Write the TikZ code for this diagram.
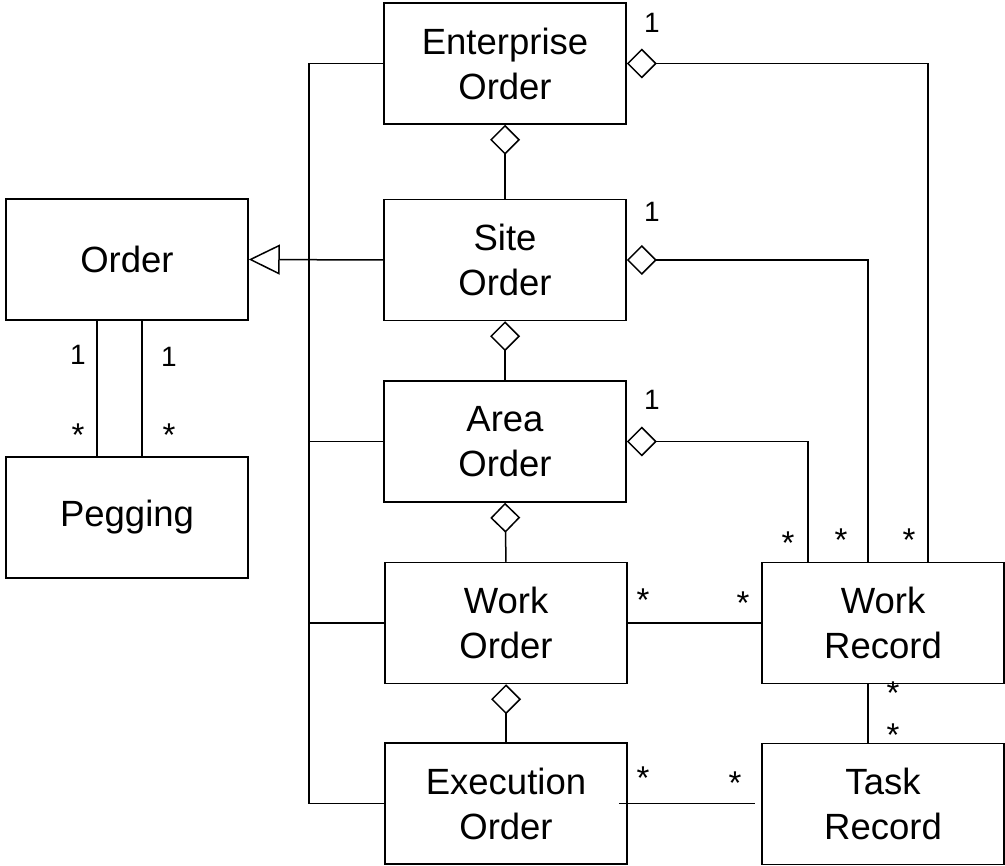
\documentclass[tikz,border=0pt]{standalone}
\usepackage{fontspec}
\setmainfont{Liberation Sans}
\usetikzlibrary{arrows.meta}

\begin{document}
\begin{tikzpicture}[x=1pt,y=-1pt,line width=1.5pt]
		\tikzstyle{cls}=[draw,shape=rectangle,minimum width=242pt,minimum height=121pt,align=center,font=\fontsize{36.5}{45}\selectfont]
		\tikzstyle{mult}=[inner sep=0pt,font=\fontsize{28}{32}\selectfont]
		\tikzstyle{many}=[mult,font=\fontsize{33}{36}\selectfont]
		\tikzstyle{aggr}=[-{Diamond[open,length=30pt,width=30pt]}]
		\tikzstyle{gen}=[-{Triangle[open,length=31pt,width=30pt]}]

		\useasboundingbox (0,0) rectangle (1005,866);

		\node[cls](ent) at (505,63.5){Enterprise\\Order};
		\node[cls](site) at (505,260){Site\\Order};
		\node[cls](area) at (505,441.5){Area\\Order};
		\node[cls](work) at (506,623){Work\\Order};
		\node[cls](exec) at (506,803.5){Execution\\Order};
		\node[cls](order) at (127,259.5){Order};
		\node[cls](peg) at (127,517.5){Pegging};
		\node[cls](wrec) at (883,623){Work\\Record};
		\node[cls](task) at (883,804){Task\\Record};
		\coordinate (trunk) at (309,0);

		\draw[aggr] (site.north) -- (ent.south);
		\draw[aggr] (area.north) -- (site.south);
		\draw[aggr] (work.north) -- (area.south);
		\draw[aggr] (exec.north) -- (work.south);

		\draw[gen] (site.west) -- (order.east);
		\draw (ent.west) -- (ent.west -| trunk) |- (exec.west);
		\draw (area.west) -- (area.west -| trunk);
		\draw (work.west) -- (work.west -| trunk);

		\draw[aggr] ([xshift=45]wrec.north) |- (ent.east);
		\draw[aggr] ([xshift=-15]wrec.north) |- (site.east);
		\draw[aggr] ([xshift=-75]wrec.north) |- (area.east);
		\draw (work.east) -- (wrec.west);
		\draw ([xshift=-9]exec.east) -- ([xshift=-6]exec.east -| task.west);
		\draw ([xshift=-15]wrec.south) -- ([xshift=-15]task.north);
		\draw ([xshift=-30]order.south) -- ([xshift=-30]peg.north);
		\draw ([xshift=15]order.south) -- ([xshift=15]peg.north);

		\node[mult](m1) at (652,23){1};
		\node[mult](m2) at (652,212){1};
		\node[mult](m3) at (652,400){1};
		\node[mult](m4) at (78,355){1};
		\node[mult](m5) at (169,357){1};
		\node[many](s1) at (78,435){*};
		\node[many](s2) at (169,435){*};
		\node[many](s3) at (788,543){*};
		\node[many](s4) at (841,540){*};
		\node[many](s5) at (909,540){*};
		\node[many](s6) at (643,600){*};
		\node[many](s7) at (743,603){*};
		\node[many](s8) at (893,693){*};
		\node[many](s9) at (893,735){*};
		\node[many](s10) at (643,778){*};
		\node[many](s11) at (735,783){*};
	\end{tikzpicture}
\end{document}
